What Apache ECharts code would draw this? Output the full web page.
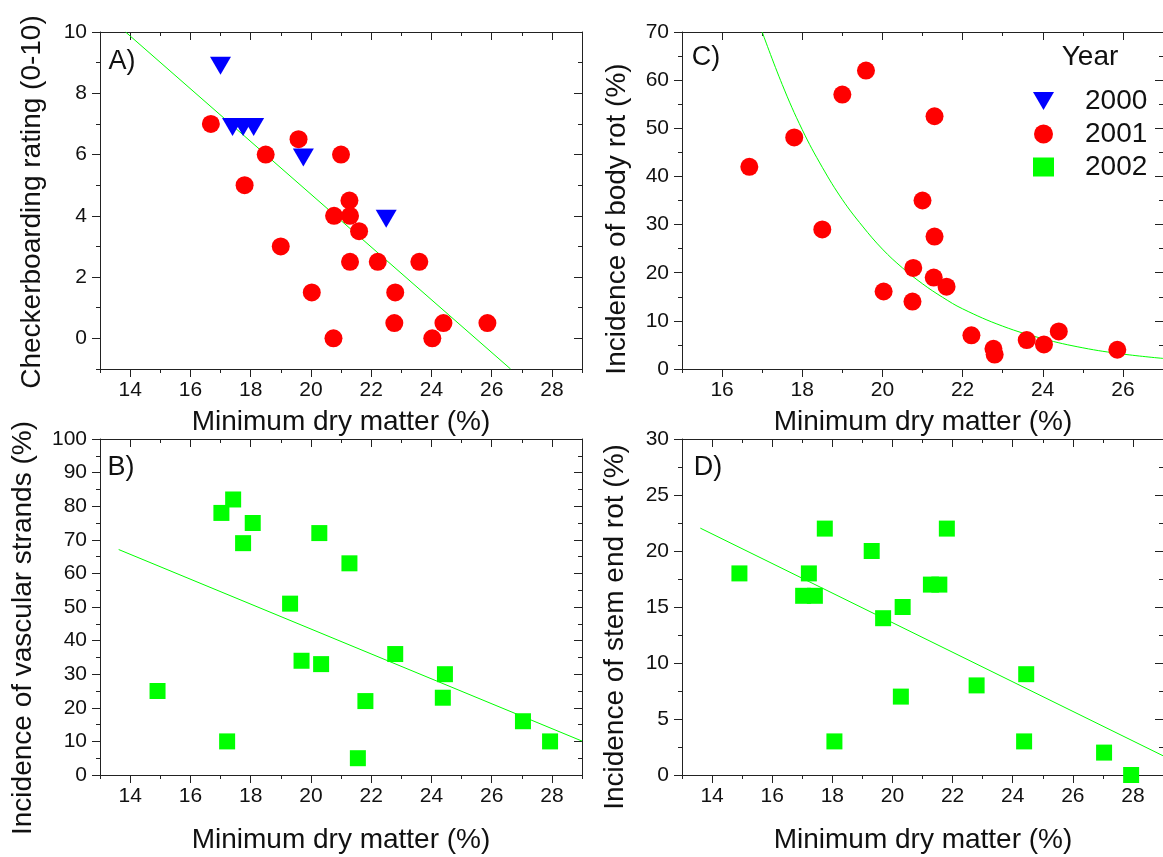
<!DOCTYPE html>
<html>
<head>
<meta charset="utf-8">
<script src="https://cdn.jsdelivr.net/npm/echarts@6/dist/echarts.min.js"></script>
<style>
  html, body { margin: 0; padding: 0; background: #fff; }
  #main { width: 1163px; height: 857px; }
</style>
</head>
<body>
<div id="main"></div>
<script>
// ---- data ----
// 2000 (panel A only)
var dm2000 = [17.0, 17.4, 17.75, 18.1, 19.75, 22.5];
var checker2000 = [9, 7, 7, 7, 6, 4];

// 2001 (panels A and C share the same samples)
var dm2001 = [16.68, 17.8, 18.5, 19.0, 19.59, 20.03, 20.75, 20.77, 21.0, 21.28,
              21.3, 21.3, 21.6, 22.22, 22.77, 22.8, 23.6, 24.03, 24.4, 25.86];
var checker2001 = [7, 5, 6, 3, 6.5, 1.5, 0, 4, 6, 4.5,
                   4, 2.5, 3.5, 2.5, 0.5, 1.5, 2.5, 0, 0.5, 0.5];
var bodyRot2001 = [42, 48.1, 29, 57, 62, 16.1, 14, 21, 35, 19,
                   52.5, 27.5, 17.1, 7, 4.2, 3, 6, 5.1, 7.8, 4];

// 2002 (panels B and D share the same samples)
var dm2002 = [14.91, 17.03, 17.22, 17.42, 17.75, 18.07, 19.31, 19.69, 20.28, 20.34,
              21.28, 21.56, 21.81, 22.8, 24.38, 24.45, 27.04, 27.94];
var vascular2002 = [25, 78, 10, 82, 69, 75, 51, 34, 72, 33,
                    63, 5, 22, 36, 23, 30, 16, 10];
var stemEnd2002 = [18, 16, 18, 16, 22, 3, 20, 14, 7, 15,
                   17, 17, 22, 8, 3, 9, 2, 0];

// fitted lines (end points / curve points)
var fitA_x = [13.85, 26.63], fitA_y = [10, -1];
var fitB_x = [13.62, 29], fitB_y = [67.1, 10.1];
var fitD_x = [13.61, 29], fitD_y = [22.04, 1.72];
var fitC_x = [17.0, 17.5, 18, 18.5, 19, 19.5, 20, 20.5, 21, 21.5, 22, 23, 24, 25, 26, 27];
var fitC_y = [70, 59.1, 49.7, 41.9, 35.2, 29.7, 24.9, 21.0, 17.7, 14.9, 12.5, 8.9, 6.3, 4.4, 3.1, 2.2];

// tick values
var xMajor = [14, 16, 18, 20, 22, 24, 26, 28], xMinor = [13, 15, 17, 19, 21, 23, 25, 27, 29];
var xMajorC = [16, 18, 20, 22, 24, 26], xMinorC = [15, 17, 19, 21, 23, 25, 27];
var yMajorA = [0, 2, 4, 6, 8, 10], yMinorA = [-1, 1, 3, 5, 7, 9];
var yMajorB = [0, 10, 20, 30, 40, 50, 60, 70, 80, 90, 100], yMinorB = [5, 15, 25, 35, 45, 55, 65, 75, 85, 95];
var yMajorC = [0, 10, 20, 30, 40, 50, 60, 70], yMinorC = [5, 15, 25, 35, 45, 55, 65];
var yMajorD = [0, 5, 10, 15, 20, 25, 30], yMinorD = [2.5, 7.5, 12.5, 17.5, 22.5, 27.5];

var FONT = '"Liberation Sans", Arial, sans-serif';
var RED = '#ff0000', BLUE = '#0000ff', GREEN = '#00ff00';
var TRI_DOWN = 'path://M0,0 L21,0 L10.5,18 Z';

function pairs(xs, ys) {
  return xs.map(function (x, i) { return [x, ys[i]]; });
}

// 4 axes per dimension per grid: main + minor ticks, mirrored + minor ticks
function makeAxes(grid, dim, min, max, major, minor) {
  var isX = dim === 'x';
  var main = isX ? 'bottom' : 'left';
  var mirror = isX ? 'top' : 'right';
  var line = { show: true, onZero: false, lineStyle: { color: '#222', width: 1 } };
  function ax(pos, ticks, len, inside, withLine, withLabel) {
    return {
      type: 'value', gridIndex: grid, position: pos, min: min, max: max,
      axisLine: withLine ? line : { show: false, onZero: false },
      axisTick: { show: true, inside: inside, length: len, customValues: ticks,
        lineStyle: { color: '#222', width: 1 } },
      axisLabel: withLabel ? {
        show: true, customValues: major, fontSize: 21, fontFamily: FONT, color: '#111',
        margin: isX ? 11 : 13
      } : { show: false },
      splitLine: { show: false }
    };
  }
  return [
    ax(main, major, 8, false, true, true),
    ax(main, minor, 4, false, false, false),
    ax(mirror, major, 8, true, true, false),
    ax(mirror, minor, 4, true, false, false)
  ];
}

var grids = [
  { left: 100, top: 32, width: 482, height: 337 },   // A
  { left: 682, top: 32, width: 482, height: 337 },   // C
  { left: 100, top: 439, width: 482, height: 336 },  // B
  { left: 682, top: 439, width: 482, height: 336 }   // D
];

var xAxes = [].concat(
  makeAxes(0, 'x', 13, 29, xMajor, xMinor),
  makeAxes(1, 'x', 15, 27, xMajorC, xMinorC),
  makeAxes(2, 'x', 13, 29, xMajor, xMinor),
  makeAxes(3, 'x', 13, 29, xMajor, xMinor)
);
var yAxes = [].concat(
  makeAxes(0, 'y', -1, 10, yMajorA, yMinorA),
  makeAxes(1, 'y', 0, 70, yMajorC, yMinorC),
  makeAxes(2, 'y', 0, 100, yMajorB, yMinorB),
  makeAxes(3, 'y', 0, 30, yMajorD, yMinorD)
);

function scatter(name, g, xs, ys, symbol, size, color, offset) {
  return {
    name: name, type: 'scatter', xAxisIndex: g * 4, yAxisIndex: g * 4,
    symbol: symbol, symbolSize: size, symbolOffset: offset || [0, 0],
    itemStyle: { color: color, opacity: 1 },
    data: pairs(xs, ys), z: 3
  };
}
function fit(g, xs, ys, smooth) {
  return {
    name: 'fit' + g, type: 'line', xAxisIndex: g * 4, yAxisIndex: g * 4,
    showSymbol: false, smooth: smooth ? 0.4 : false, silent: true,
    lineStyle: { color: GREEN, width: 1 }, data: pairs(xs, ys), z: 2
  };
}

function label(text, x, y, size, rot) {
  return {
    type: 'text', x: x, y: y, rotation: rot || 0,
    style: { text: text, fill: '#111', font: size + 'px ' + FONT, align: 'center', verticalAlign: 'middle' }
  };
}

var option = {
  animation: false,
  backgroundColor: '#fff',
  grid: grids,
  xAxis: xAxes,
  yAxis: yAxes,
  legend: {
    data: ['2000', '2001', '2002'],
    orient: 'vertical', left: 1028, top: 82,
    itemWidth: 21, itemHeight: 19, itemGap: 5,
    selectedMode: false,
    textStyle: { fontSize: 28, fontFamily: FONT, color: '#111', padding: [0, 0, 0, 26] }
  },
  graphic: [
    label('A)', 122, 62, 27), label('C)', 706, 58, 27),
    label('B)', 121, 468, 27), label('D)', 708, 468, 27),
    label('Year', 1090, 57, 28),
    label('Minimum dry matter (%)', 341, 422, 28),
    label('Minimum dry matter (%)', 923, 422, 28),
    label('Minimum dry matter (%)', 341, 840, 28),
    label('Minimum dry matter (%)', 923, 840, 28),
    label('Checkerboarding rating (0-10)', 32, 202, 28, Math.PI / 2),
    label('Incidence of body rot (%)', 617, 219, 28, Math.PI / 2),
    label('Incidence of vascular strands (%)', 23, 628, 28, Math.PI / 2),
    label('Incidence of stem end rot (%)', 615, 627, 28, Math.PI / 2)
  ],
  series: [
    fit(0, fitA_x, fitA_y),
    scatter('2001', 0, dm2001, checker2001, 'circle', 18, RED),
    scatter('2000', 0, dm2000, checker2000, TRI_DOWN, [21, 18], BLUE, [0, 3]),
    fit(1, fitC_x, fitC_y, true),
    scatter('2001', 1, dm2001, bodyRot2001, 'circle', 18, RED),
    fit(2, fitB_x, fitB_y),
    scatter('2002', 2, dm2002, vascular2002, 'rect', 16, GREEN),
    fit(3, fitD_x, fitD_y),
    scatter('2002', 3, dm2002, stemEnd2002, 'rect', 16, GREEN)
  ]
};

var chart = echarts.init(document.getElementById('main'));
chart.setOption(option);
</script>
</body>
</html>
